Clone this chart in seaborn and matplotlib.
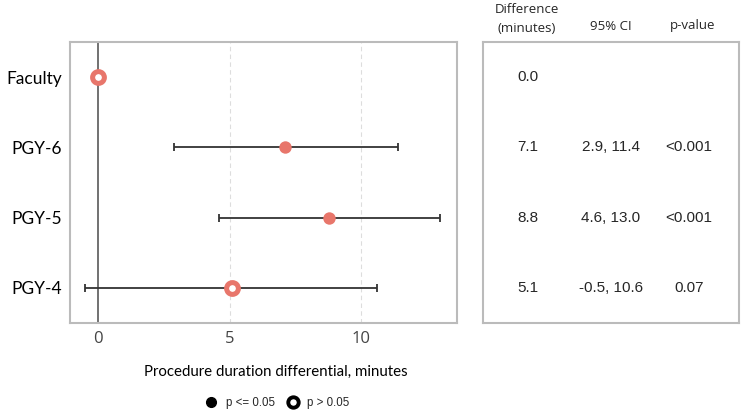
import matplotlib
matplotlib.use("Agg")
import matplotlib.pyplot as plt
from matplotlib.lines import Line2D
import seaborn as sns
import pandas as pd
import numpy as np

groups = ["Faculty", "PGY-6", "PGY-5", "PGY-4"]
diff = [0.0, 7.1, 8.8, 5.1]
ci_low = [np.nan, 2.9, 4.6, -0.5]
ci_high = [np.nan, 11.4, 13.0, 10.6]
significant = [False, True, True, False]
diff_text = ["0.0", "7.1", "8.8", "5.1"]
ci_text = ["", "2.9, 11.4", "4.6, 13.0", "-0.5, 10.6"]
p_text = ["", "<0.001", "<0.001", "0.07"]
xticks = [0, 5, 10]

sns.set_theme(style="white")
plt.rcParams['font.family'] = ['Open Sans', 'DejaVu Sans']

df = pd.DataFrame({"group": groups, "diff": diff, "lo": ci_low, "hi": ci_high, "sig": significant})
df["y"] = np.arange(len(groups))

W, H = 742, 412
fig = plt.figure(figsize=(W/100, H/100), dpi=100)
ax = fig.add_axes([70/W, 1-323/H, 387/W, 281/H])
ax2 = fig.add_axes([483/W, 1-323/H, 256/W, 281/H])

col = "#E8766B"
ax.axvline(0, color="#666666", lw=1.3, zorder=1)
for xt in xticks[1:]:
    ax.axvline(xt, color="#dddddd", lw=0.8, ls=(0, (4, 3)), zorder=0)

ci = df.dropna()
ax.errorbar(ci["diff"], ci["y"], xerr=[ci["diff"] - ci["lo"], ci["hi"] - ci["diff"]],
            fmt="none", ecolor="#333333", elinewidth=1.3, capsize=2.6, capthick=1.3, zorder=2)

sig = df[df["sig"]]
nsig = df[~df["sig"]]
sns.scatterplot(data=sig, x="diff", y="y", ax=ax, color=col, s=80, edgecolor=col, linewidth=0, zorder=3, legend=False)
sns.scatterplot(data=nsig, x="diff", y="y", ax=ax, color="white", s=72, edgecolor=col, linewidth=3.6, zorder=3, legend=False)

ax.set_xlim(-1.07, 13.65)
ax.set_ylim(3.5, -0.5)
ax.set_yticks(df["y"])
ax.set_yticklabels(groups, fontsize=12.5, color="black", family=["Lato", "DejaVu Sans"])
ax.set_xticks(xticks)
ax.set_xticklabels([str(t) for t in xticks], fontsize=12, color="#444444")
ax.tick_params(axis="both", length=0, pad=6)
ax.tick_params(axis="x", pad=6)
ax.set_xlabel("Procedure duration differential, minutes", fontsize=10.8, color="black",
              family=["Lato", "DejaVu Sans"])
ax.xaxis.set_label_coords((276-70)/387, -(372-323)/281)
ax.xaxis.label.set_va("center")
ax.set_ylabel("")
for s in ax.spines.values():
    s.set_color("#bbbbbb")
    s.set_linewidth(1.5)

ax2.set_xlim(483, 739)
ax2.set_ylim(3.5, -0.5)
ax2.set_xticks([])
ax2.set_yticks([])
for s in ax2.spines.values():
    s.set_color("#bbbbbb")
    s.set_linewidth(1.5)
for i in range(len(groups)):
    ax2.text(528, i, diff_text[i], ha="center", va="center", fontsize=11, family=["Liberation Sans"])
    ax2.text(611, i, ci_text[i], ha="center", va="center", fontsize=11, family=["Liberation Sans"])
    ax2.text(689, i, p_text[i], ha="center", va="center", fontsize=11, family=["Liberation Sans"])

fig.text(527/W, 1-19/H, "Difference\n(minutes)", ha="center", va="center", fontsize=9.5, linespacing=1.55)
fig.text(611/W, 1-26/H, "95% CI", ha="center", va="center", fontsize=9.5)
fig.text(693/W, 1-26/H, "p-value", ha="center", va="center", fontsize=9.5)

handles = [Line2D([], [], marker="o", ls="none", color="black", markersize=7),
           Line2D([], [], marker="o", ls="none", markerfacecolor="white", markeredgecolor="black",
                  markeredgewidth=2.8, markersize=7.5)]
fig.legend(handles, ["p <= 0.05", "p > 0.05"], loc="center", bbox_to_anchor=(276/W, 1-403/H),
           ncol=2, frameon=False, handletextpad=0.5, columnspacing=0.8, handlelength=1.5,
           prop={"family": "Liberation Sans", "size": 8.3})

fig.savefig("out.png", dpi=100)
